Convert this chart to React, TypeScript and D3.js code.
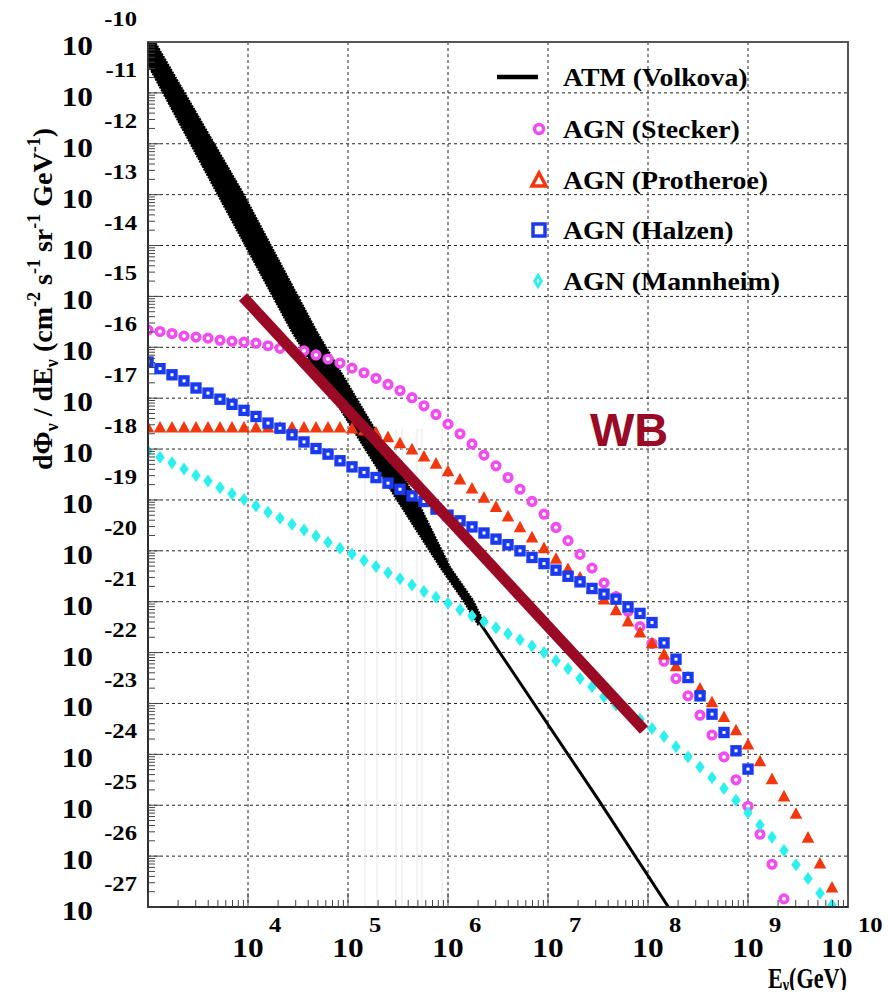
import { useEffect, useRef } from "react"
import * as d3 from "d3"

// log10(E / GeV) of the model bins (shared by the AGN curves)
const binLogE = [
  3.0, 3.12, 3.24, 3.36, 3.48, 3.6, 3.72, 3.84, 3.96, 4.08, 4.2, 4.32, 4.44, 4.56, 4.68, 4.8,
  4.92, 5.04, 5.16, 5.28, 5.4, 5.52, 5.64, 5.76, 5.88, 6.0, 6.12, 6.24, 6.36, 6.48, 6.6, 6.72,
  6.84, 6.96, 7.08, 7.2, 7.32, 7.44, 7.56, 7.68, 7.8, 7.92, 8.04, 8.16, 8.28, 8.4, 8.52, 8.64,
  8.76, 8.88, 9.0, 9.12, 9.24, 9.36, 9.48, 9.6, 9.72, 9.84,
]

// log10 of flux, one value per bin
const steckerLogFlux = [
  -15.66, -15.69, -15.73, -15.78, -15.8, -15.82, -15.86, -15.88, -15.9, -15.92, -15.97, -16.02,
  -16.05, -16.07, -16.15, -16.23, -16.31, -16.41, -16.5, -16.61, -16.73, -16.85, -16.99, -17.15,
  -17.32, -17.51, -17.7, -17.9, -18.12, -18.33, -18.56, -18.79, -19.03, -19.28, -19.54, -19.8,
  -20.07, -20.34, -20.63, -20.9, -21.19, -21.49, -21.82, -22.17, -22.51, -22.85, -23.23, -23.62,
  -24.05, -24.5, -25.02, -25.57, -26.16, -26.84,
]

const protheroeLogFlux = [
  -17.57, -17.57, -17.57, -17.57, -17.57, -17.57, -17.57, -17.57, -17.57, -17.57, -17.57, -17.57,
  -17.57, -17.57, -17.57, -17.57, -17.57, -17.59, -17.63, -17.67, -17.76, -17.88, -18.0, -18.14,
  -18.28, -18.43, -18.59, -18.77, -18.95, -19.13, -19.32, -19.53, -19.73, -19.94, -20.15, -20.35,
  -20.52, -20.74, -20.95, -21.16, -21.38, -21.6, -21.81, -22.03, -22.26, -22.48, -22.7, -22.97,
  -23.26, -23.52, -23.8, -24.13, -24.48, -24.82, -25.16, -25.63, -26.14, -26.61,
]

const halzenLogFlux = [
  -16.29, -16.42, -16.54, -16.66, -16.8, -16.9, -17.02, -17.12, -17.24, -17.36, -17.49, -17.59,
  -17.72, -17.86, -17.99, -18.1, -18.23, -18.35, -18.46, -18.56, -18.67, -18.79, -18.92, -19.03,
  -19.18, -19.3, -19.41, -19.53, -19.65, -19.77, -19.88, -20.0, -20.13, -20.25, -20.38, -20.5,
  -20.61, -20.74, -20.85, -20.95, -21.1, -21.23, -21.41, -21.81, -22.13, -22.49, -22.85, -23.21,
  -23.57, -23.93, -24.29,
]

const mannheimLogFlux = [
  -18.04, -18.16, -18.27, -18.39, -18.52, -18.63, -18.76, -18.88, -18.99, -19.12, -19.24, -19.36,
  -19.48, -19.59, -19.71, -19.83, -19.95, -20.06, -20.19, -20.31, -20.43, -20.55, -20.67, -20.8,
  -20.91, -21.03, -21.16, -21.28, -21.39, -21.51, -21.63, -21.75, -21.87, -22.0, -22.16, -22.32,
  -22.51, -22.67, -22.87, -23.03, -23.17, -23.31, -23.49, -23.65, -23.85, -24.05, -24.25, -24.46,
  -24.67, -24.9, -25.15, -25.39, -25.63, -25.89, -26.17, -26.44, -26.73, -26.96,
]

// atmospheric (Volkova) band: [log10 E, log10 flux]
const atmUpperEdge: [number, number][] = [
  [3.0, -9.77], [3.07, -10.0], [3.95, -12.97], [4.69, -15.7], [5.69, -19.0], [6.02, -20.32],
  [6.25, -20.97], [6.37, -21.45],
]
const atmLowerEdge: [number, number][] = [
  [3.0, -10.45], [3.69, -12.97], [4.44, -15.7], [5.49, -19.0], [5.92, -20.32], [6.15, -20.97],
  [6.3, -21.45],
]
const atmTail: [number, number][] = [[6.33, -21.45], [7.5, -24.88], [8.32, -27.35]]
const atmErrorBarLogE = [5.17, 5.29, 5.48, 5.54, 5.69, 5.74, 5.94]

// Waxman-Bahcall bound
const wbLine: [number, number][] = [[3.95, -15.01], [7.96, -23.52]]

const xTickExponents = [4, 5, 6, 7, 8, 9, 10]
const yTickExponents = [-10, -11, -12, -13, -14, -15, -16, -17, -18, -19, -20, -21, -22, -23, -24, -25, -26, -27]

const legendLabels = ["ATM (Volkova)", "AGN (Stecker)", "AGN (Protheroe)", "AGN (Halzen)", "AGN (Mannheim)"]

const MAGENTA = "#f04cf0"
const RED = "#f2360e"
const BLUE = "#1a3af0"
const CYAN = "#2cf0f0"
const WB_RED = "#9b0a24"
const SERIF = "'Liberation Serif', 'Times New Roman', serif"

export default function App() {
  const svgRef = useRef<SVGSVGElement>(null)

  useEffect(() => {
    if (!svgRef.current) return
    const root = d3.select(svgRef.current)
    root.selectAll("*").remove()

    const W = 890
    const H = 998
    root.attr("width", W).attr("height", H)

    const left = 148
    const right = 848
    const top = 42
    const bottom = 907

    const x = d3.scaleLog().domain([1e3, 1e10]).range([left, right])
    const y = d3.scaleLog().domain([1e-27, 1e-10]).range([bottom, top])
    const px = (le: number) => x(Math.pow(10, le))
    const py = (lf: number) => y(Math.pow(10, lf))

    root.append("rect").attr("width", W).attr("height", H).attr("fill", "white")

    root
      .append("defs")
      .append("clipPath")
      .attr("id", "plot-clip")
      .append("rect")
      .attr("x", left)
      .attr("y", top)
      .attr("width", right - left)
      .attr("height", bottom - top)

    // Grid
    const grid = root.append("g").attr("stroke", "#222").attr("stroke-width", 1).attr("stroke-dasharray", "3,3")
    xTickExponents.filter(e => e < 10).forEach(e => {
      grid.append("line").attr("x1", px(e)).attr("x2", px(e)).attr("y1", top).attr("y2", bottom)
    })
    yTickExponents.filter(e => e < -10 && e > -27).forEach(e => {
      grid.append("line").attr("x1", left).attr("x2", right).attr("y1", py(e)).attr("y2", py(e))
    })

    const plot = root.append("g").attr("clip-path", "url(#plot-clip)")

    // faint error bars of the atmospheric band
    atmErrorBarLogE.forEach(le => {
      plot
        .append("line")
        .attr("x1", px(le))
        .attr("x2", px(le))
        .attr("y1", py(-17.6))
        .attr("y2", bottom)
        .attr("stroke", "#e6e6e6")
        .attr("stroke-width", 1)
    })

    const line = d3
      .line<[number, number]>()
      .x(d => px(d[0]))
      .y(d => py(d[1]))

    // ATM band
    const bandPts = [...atmUpperEdge, ...atmLowerEdge.slice().reverse()]
    plot
      .append("path")
      .attr("d", line(bandPts) + "Z")
      .attr("fill", "black")
      .attr("stroke", "black")
      .attr("stroke-width", 2)
      .attr("stroke-dasharray", "2,1")
      .attr("stroke-linejoin", "round")
    plot
      .append("path")
      .attr("d", line(atmTail))
      .attr("fill", "none")
      .attr("stroke", "black")
      .attr("stroke-width", 3)

    // Stecker: open circles
    plot
      .append("g")
      .selectAll("circle")
      .data(steckerLogFlux)
      .join("circle")
      .attr("cx", (d, i) => px(binLogE[i]))
      .attr("cy", d => py(d))
      .attr("r", 3.8)
      .attr("fill", "white")
      .attr("stroke", MAGENTA)
      .attr("stroke-width", 3.6)

    // Protheroe: filled triangles
    const tri = (cx: number, cy: number, s: number) =>
      `M${cx - s / 2},${cy + s * 0.43}L${cx + s / 2},${cy + s * 0.43}L${cx},${cy - s * 0.5}Z`
    plot
      .append("g")
      .selectAll("path")
      .data(protheroeLogFlux)
      .join("path")
      .attr("d", (d, i) => tri(px(binLogE[i]), py(d), 12.5))
      .attr("fill", RED)

    // Halzen: open squares
    plot
      .append("g")
      .selectAll("rect")
      .data(halzenLogFlux)
      .join("rect")
      .attr("x", (d, i) => px(binLogE[i]) - 3.6)
      .attr("y", d => py(d) - 3.6)
      .attr("width", 7.2)
      .attr("height", 7.2)
      .attr("fill", "white")
      .attr("stroke", BLUE)
      .attr("stroke-width", 4.2)

    // Mannheim: filled diamonds
    const diamond = (cx: number, cy: number, w: number, h: number) =>
      `M${cx},${cy - h / 2}L${cx + w / 2},${cy}L${cx},${cy + h / 2}L${cx - w / 2},${cy}Z`
    plot
      .append("g")
      .selectAll("path")
      .data(mannheimLogFlux)
      .join("path")
      .attr("d", (d, i) => diamond(px(binLogE[i]), py(d), 9.5, 13))
      .attr("fill", CYAN)

    // WB bound
    root
      .append("path")
      .attr("d", line(wbLine))
      .attr("stroke", WB_RED)
      .attr("stroke-width", 11)
      .attr("fill", "none")

    root
      .append("text")
      .attr("x", 590)
      .attr("y", 446)
      .attr("font-family", "'Liberation Sans', Arial, sans-serif")
      .attr("font-weight", "bold")
      .attr("font-size", 47)
      .attr("fill", WB_RED)
      .text("WB")

    // Frame
    root
      .append("rect")
      .attr("x", left)
      .attr("y", top)
      .attr("width", right - left)
      .attr("height", bottom - top)
      .attr("fill", "none")
      .attr("stroke", "#555")
      .attr("stroke-width", 2)
    root.append("line").attr("x1", left).attr("x2", left).attr("y1", top).attr("y2", bottom).attr("stroke", "#222").attr("stroke-width", 1.5)
    root.append("line").attr("x1", left).attr("x2", right).attr("y1", bottom).attr("y2", bottom).attr("stroke", "#222").attr("stroke-width", 1.5)

    // Ticks
    const ticks = root.append("g").attr("stroke", "#444").attr("stroke-width", 1)
    for (let d = 3; d < 10; d++) {
      for (let k = 1; k < 10; k++) {
        const xv = x(k * Math.pow(10, d))
        const len = k === 1 ? 14 : 7
        ticks.append("line").attr("x1", xv).attr("x2", xv).attr("y1", bottom).attr("y2", bottom - len)
      }
    }
    for (let d = -27; d < -10; d++) {
      for (let k = 1; k < 10; k++) {
        const yv = y(k * Math.pow(10, d))
        const len = k === 1 ? 12 : 7
        ticks.append("line").attr("x1", left).attr("x2", left + len).attr("y1", yv).attr("y2", yv)
      }
    }

    // text helper, the original is a little stretched sideways
    const labels = root.append("g").attr("font-family", SERIF).attr("font-weight", "bold").attr("fill", "black")
    const stext = (tx: number, ty: number, t: string, size: number, anchor: string, sx: number) =>
      labels
        .append("text")
        .attr("transform", `translate(${tx},${ty}) scale(${sx},1)`)
        .attr("text-anchor", anchor)
        .attr("font-size", size)
        .text(t)

    // Y tick labels
    yTickExponents.forEach(e => {
      const yv = py(e)
      stext(93, yv + 13, "10", 28, "end", 1.12)
      stext(137, yv - 16, String(e), 22, "end", 1.12)
    })

    // X tick labels
    xTickExponents.forEach(e => {
      const xv = Math.min(px(e), 837)
      stext(xv, 957, "10", 28, "middle", 1.12)
      stext(xv + 21, 932, String(e), 22, "start", 1.12)
    })

    // X title
    const xt = labels
      .append("text")
      .attr("transform", "translate(847,988) scale(0.74,1)")
      .attr("text-anchor", "end")
      .attr("font-size", 30)
    xt.append("tspan").text("E")
    xt.append("tspan").attr("font-size", 19).attr("dy", 3).text("ν")
    xt.append("tspan").attr("dy", -3).text("(GeV)")

    // Y title
    const yt = labels
      .append("text")
      .attr("transform", "translate(52,470) rotate(-90)")
      .attr("font-size", 28)
    const seg = (t: string, shift: number, small: boolean) => {
      yt.append("tspan").attr("dy", shift).attr("font-size", small ? 18 : 28).text(t)
    }
    seg("dΦ", 0, false)
    seg("ν", 6, true)
    seg(" / dE", -6, false)
    seg("ν", 6, true)
    seg(" (cm", -6, false)
    seg("-2", -12, true)
    seg(" s", 12, false)
    seg("-1", -12, true)
    seg(" sr", 12, false)
    seg("-1", -12, true)
    seg(" GeV", 12, false)
    seg("-1", -12, true)
    seg(")", 12, false)

    // Legend
    const lg = root.append("g")
    const rowY = [77, 129, 180, 230, 281]
    lg.append("line").attr("x1", 497).attr("x2", 538).attr("y1", rowY[0]).attr("y2", rowY[0]).attr("stroke", "black").attr("stroke-width", 4.5)
    lg.append("circle").attr("cx", 539).attr("cy", rowY[1]).attr("r", 4.5).attr("fill", "white").attr("stroke", MAGENTA).attr("stroke-width", 3.5)
    lg.append("path").attr("d", tri(539, rowY[2], 14)).attr("fill", "white").attr("stroke", RED).attr("stroke-width", 3.5)
    lg.append("rect").attr("x", 533).attr("y", rowY[3] - 6).attr("width", 12).attr("height", 12).attr("fill", "white").attr("stroke", BLUE).attr("stroke-width", 3.5)
    lg.append("path").attr("d", diamond(538, rowY[4], 10, 17)).attr("fill", CYAN)
    lg.append("path").attr("d", diamond(538, rowY[4], 3, 5)).attr("fill", "white")
    legendLabels.forEach((t, i) => {
      stext(563, rowY[i] + 9, t, 26, "start", 1.07)
    })
  }, [])

  return (
    <div style={{ width: 890, height: 998, margin: -8 }}>
      <svg ref={svgRef} style={{ display: "block" }} />
    </div>
  )
}
